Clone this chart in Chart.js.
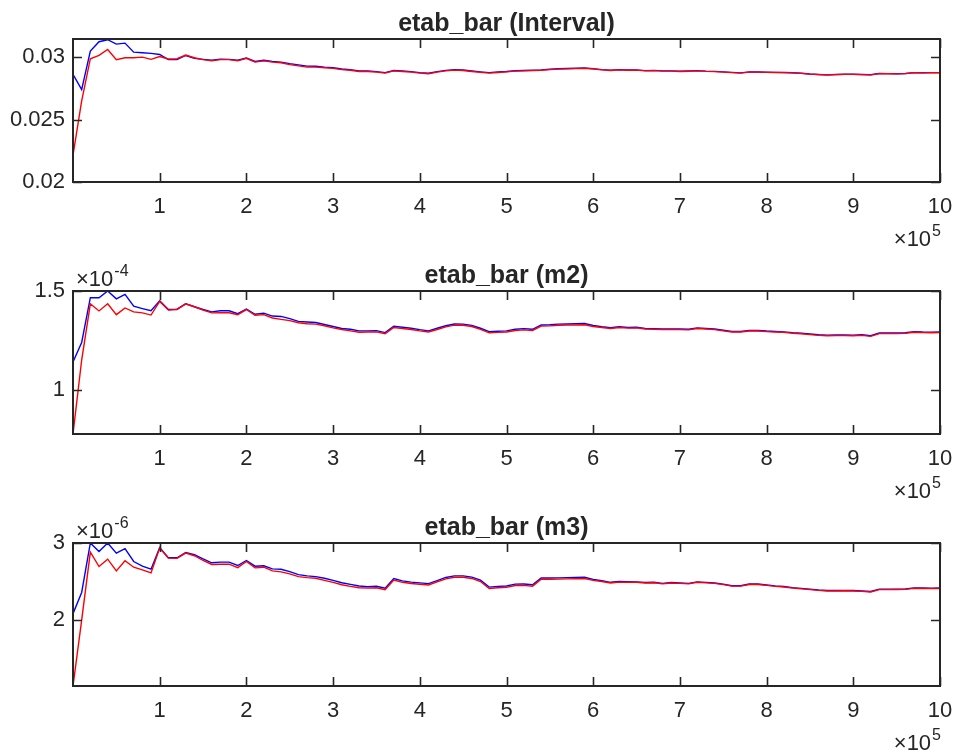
<!DOCTYPE html>
<html>
<head>
<meta charset="utf-8">
<script src="https://cdn.jsdelivr.net/npm/chart.js@4.4.1/dist/chart.umd.min.js"></script>
<style>
  html, body { margin: 0; padding: 0; background: #ffffff; }
  #wrap { position: relative; width: 957px; height: 756px; overflow: hidden; }
  #wrap canvas { position: absolute; left: 0; }
</style>
</head>
<body>
<div id="wrap">
  <canvas id="pInterval" width="957" height="252" style="top:0px"></canvas>
  <canvas id="pM2" width="957" height="252" style="top:252px"></canvas>
  <canvas id="pM3" width="957" height="252" style="top:504px"></canvas>
</div>
<script>
// Sample grid: iteration count, one sample every 1e4 up to 1e6
const sampleStep = 1e4;
const sampleCount = 101;

// Panel titles
const titles = ['etab_bar (Interval)', 'etab_bar (m2)', 'etab_bar (m3)'];

// x axis ticks (in units of 1e5)
const xTickValues = [1, 2, 3, 4, 5, 6, 7, 8, 9, 10];
const xExponent = '5';

// y axis tick values and exponents per panel
const yTicksInterval = [0.02, 0.025, 0.03];
const yTicksM2 = [1, 1.5];       // x 1e-4
const yTicksM3 = [2, 3];         // x 1e-6
const yExpM2 = '-4';
const yExpM3 = '-6';

// etab_bar (Interval)
const intervalBlue = [
  0.02862, 0.0274, 0.03048, 0.03123, 0.03139, 0.03104, 0.03112, 0.0304, 0.03035, 0.0303,
  0.03021, 0.0298, 0.0298, 0.03013, 0.0299, 0.02982, 0.02975, 0.02984, 0.02982, 0.02975,
  0.02993, 0.02965, 0.02975, 0.02966, 0.0296, 0.02948, 0.02938, 0.02928, 0.02927, 0.0292,
  0.02915, 0.02905, 0.02899, 0.0289, 0.02889, 0.02884, 0.02876, 0.02893, 0.02889, 0.02884,
  0.02876, 0.02871, 0.02884, 0.02894, 0.029, 0.02897, 0.02889, 0.02882, 0.02876, 0.02881,
  0.02885, 0.02891, 0.02893, 0.02895, 0.02898, 0.02903, 0.02907, 0.02909, 0.02911, 0.02913,
  0.02908, 0.029, 0.02896, 0.029, 0.02897, 0.02898, 0.02892, 0.02894, 0.0289, 0.0289,
  0.02887, 0.02889, 0.02892, 0.02888, 0.02886, 0.02882, 0.02878, 0.02874, 0.02882, 0.02881,
  0.02879, 0.02878, 0.02877, 0.02875, 0.02871, 0.02865, 0.02861, 0.02858, 0.02861, 0.02863,
  0.02863, 0.02861, 0.02859, 0.02869, 0.02868, 0.02867, 0.02869, 0.02876, 0.02875, 0.02876,
  0.02876
];
const intervalRed = [
  0.02215, 0.0265, 0.02987, 0.03014, 0.03061, 0.0298, 0.02995, 0.02995, 0.03, 0.02982,
  0.03005, 0.02985, 0.02987, 0.03016, 0.02995, 0.0298, 0.0297, 0.0298, 0.0298, 0.0297,
  0.0299, 0.0296, 0.0297, 0.0296, 0.02955, 0.0294, 0.0293, 0.0292, 0.0292, 0.02915,
  0.0291, 0.029, 0.02895, 0.02885, 0.02885, 0.0288, 0.02872, 0.0289, 0.02885, 0.0288,
  0.02872, 0.02867, 0.0288, 0.0289, 0.02896, 0.02893, 0.02885, 0.02878, 0.02872, 0.02877,
  0.02882, 0.02888, 0.0289, 0.02892, 0.02895, 0.029, 0.02904, 0.02906, 0.02908, 0.0291,
  0.02905, 0.02898, 0.02893, 0.02898, 0.02895, 0.02896, 0.0289, 0.02892, 0.02888, 0.02888,
  0.02885, 0.02887, 0.0289, 0.02886, 0.02884, 0.0288, 0.02876, 0.02872, 0.0288, 0.0288,
  0.02878, 0.02877, 0.02876, 0.02874, 0.0287, 0.02864, 0.0286, 0.02857, 0.0286, 0.02862,
  0.02862, 0.0286, 0.02858, 0.02868, 0.02867, 0.02866, 0.02868, 0.02875, 0.02874, 0.02875,
  0.02875
];

// etab_bar (m2), in units of 1e-4
const m2Blue = [
  1.140, 1.239, 1.466, 1.466, 1.500, 1.460, 1.483, 1.423, 1.411, 1.400,
  1.450, 1.406, 1.408, 1.435, 1.420, 1.406, 1.394, 1.400, 1.400, 1.385,
  1.408, 1.382, 1.388, 1.373, 1.371, 1.360, 1.346, 1.343, 1.340, 1.330,
  1.320, 1.310, 1.306, 1.298, 1.298, 1.299, 1.289, 1.321, 1.316, 1.311,
  1.304, 1.298, 1.311, 1.324, 1.333, 1.332, 1.326, 1.311, 1.294, 1.296,
  1.298, 1.306, 1.309, 1.306, 1.328, 1.329, 1.332, 1.333, 1.334, 1.335,
  1.325, 1.319, 1.314, 1.319, 1.315, 1.316, 1.310, 1.309, 1.307, 1.308,
  1.307, 1.306, 1.313, 1.310, 1.307, 1.301, 1.295, 1.295, 1.300, 1.300,
  1.297, 1.295, 1.293, 1.289, 1.286, 1.282, 1.278, 1.276, 1.277, 1.277,
  1.276, 1.278, 1.273, 1.287, 1.287, 1.287, 1.288, 1.294, 1.292, 1.291,
  1.292
];
const m2Red = [
  0.775, 1.150, 1.435, 1.399, 1.435, 1.380, 1.414, 1.394, 1.389, 1.378,
  1.447, 1.403, 1.406, 1.435, 1.420, 1.403, 1.389, 1.390, 1.390, 1.380,
  1.406, 1.377, 1.380, 1.363, 1.356, 1.350, 1.339, 1.334, 1.332, 1.324,
  1.313, 1.305, 1.298, 1.291, 1.292, 1.293, 1.283, 1.315, 1.310, 1.305,
  1.298, 1.292, 1.305, 1.318, 1.327, 1.326, 1.320, 1.305, 1.288, 1.290,
  1.292, 1.300, 1.303, 1.300, 1.322, 1.323, 1.326, 1.327, 1.328, 1.329,
  1.320, 1.315, 1.310, 1.315, 1.312, 1.313, 1.307, 1.306, 1.304, 1.305,
  1.304, 1.303, 1.310, 1.307, 1.304, 1.298, 1.292, 1.292, 1.297, 1.297,
  1.294, 1.292, 1.290, 1.286, 1.283, 1.279, 1.275, 1.273, 1.274, 1.274,
  1.273, 1.275, 1.270, 1.284, 1.284, 1.284, 1.285, 1.291, 1.289, 1.288,
  1.289
];

// etab_bar (m3), in units of 1e-6
const m3Blue = [
  2.083, 2.358, 3.000, 2.891, 3.000, 2.869, 2.926, 2.760, 2.699, 2.660,
  2.940, 2.808, 2.808, 2.878, 2.848, 2.795, 2.743, 2.752, 2.752, 2.708,
  2.773, 2.699, 2.704, 2.664, 2.660, 2.629, 2.590, 2.573, 2.564, 2.542,
  2.516, 2.485, 2.463, 2.442, 2.433, 2.438, 2.413, 2.538, 2.508, 2.493,
  2.483, 2.473, 2.513, 2.553, 2.573, 2.573, 2.558, 2.518, 2.428, 2.438,
  2.443, 2.466, 2.468, 2.458, 2.546, 2.546, 2.548, 2.551, 2.553, 2.556,
  2.528, 2.510, 2.490, 2.500, 2.497, 2.496, 2.488, 2.491, 2.476, 2.488,
  2.482, 2.476, 2.496, 2.489, 2.482, 2.466, 2.446, 2.446, 2.468, 2.468,
  2.456, 2.444, 2.436, 2.421, 2.411, 2.401, 2.391, 2.384, 2.384, 2.386,
  2.384, 2.378, 2.371, 2.401, 2.401, 2.402, 2.404, 2.418, 2.416, 2.414,
  2.416
];
const m3Red = [
  1.145, 2.000, 2.882, 2.695, 2.790, 2.638, 2.769, 2.686, 2.651, 2.612,
  2.935, 2.804, 2.800, 2.869, 2.835, 2.773, 2.721, 2.725, 2.725, 2.681,
  2.760, 2.677, 2.686, 2.638, 2.625, 2.599, 2.564, 2.551, 2.542, 2.516,
  2.490, 2.459, 2.437, 2.420, 2.415, 2.420, 2.395, 2.520, 2.490, 2.475,
  2.465, 2.455, 2.495, 2.535, 2.555, 2.555, 2.540, 2.500, 2.410, 2.420,
  2.425, 2.448, 2.450, 2.440, 2.530, 2.530, 2.532, 2.535, 2.537, 2.540,
  2.515, 2.500, 2.482, 2.492, 2.490, 2.490, 2.482, 2.485, 2.470, 2.482,
  2.476, 2.470, 2.490, 2.483, 2.476, 2.460, 2.440, 2.440, 2.462, 2.462,
  2.450, 2.438, 2.430, 2.415, 2.405, 2.395, 2.385, 2.378, 2.378, 2.380,
  2.378, 2.372, 2.365, 2.395, 2.395, 2.396, 2.398, 2.412, 2.410, 2.408,
  2.410
];

const FONT = "'Liberation Sans', Arial, Helvetica, sans-serif";
const INK = '#262626';
const AREA = { left: 73, right: 940, top: 39, bottom: 182 };

function toPoints(values) {
  return values.map((v, i) => ({ x: i * sampleStep / 1e5, y: v }));
}

// Draws "×10" followed by a superscript exponent
function drawPower(ctx, exp, x, y, align) {
  ctx.save();
  ctx.fillStyle = INK;
  ctx.textBaseline = 'alphabetic';
  ctx.textAlign = 'left';
  const baseFont = '22px ' + FONT;
  const supFont = '16px ' + FONT;
  ctx.font = baseFont;
  const base = '\u00D710';
  const wBase = ctx.measureText(base).width;
  ctx.font = supFont;
  const wSup = ctx.measureText(exp).width;
  const x0 = align === 'right' ? x - wBase - wSup : x;
  ctx.font = baseFont;
  ctx.fillText(base, x0, y);
  ctx.font = supFont;
  ctx.fillText(exp, x0 + wBase + 1, y - 10);
  ctx.restore();
}

// Box, inward tick marks, title and exponent labels, MATLAB style
const axesFrame = {
  id: 'axesFrame',
  afterDraw(chart, args, opts) {
    const { ctx, chartArea: a, scales } = chart;
    const xs = scales.x, ys = scales.y;
    const tl = 9;
    ctx.save();
    ctx.strokeStyle = INK;
    ctx.lineWidth = 1.6;
    ctx.beginPath();
    xs.ticks.forEach(t => {
      const px = Math.round(xs.getPixelForValue(t.value)) + 0.5;
      ctx.moveTo(px, a.bottom); ctx.lineTo(px, a.bottom - tl);
      ctx.moveTo(px, a.top); ctx.lineTo(px, a.top + tl);
    });
    ys.ticks.forEach(t => {
      const py = Math.round(ys.getPixelForValue(t.value)) + 0.5;
      ctx.moveTo(a.left, py); ctx.lineTo(a.left + tl, py);
      ctx.moveTo(a.right, py); ctx.lineTo(a.right - tl, py);
    });
    ctx.stroke();
    ctx.lineWidth = 2;
    ctx.strokeRect(a.left, a.top, a.right - a.left, a.bottom - a.top);

    ctx.fillStyle = INK;
    ctx.font = 'bold 25px ' + FONT;
    ctx.textAlign = 'center';
    ctx.textBaseline = 'alphabetic';
    ctx.fillText(opts.title, (a.left + a.right) / 2, a.top - 8);
    ctx.restore();

    if (opts.yExp) drawPower(ctx, opts.yExp, a.left + 3, a.top - 5, 'left');
    drawPower(ctx, xExponent, a.right, a.bottom + 64, 'right');
  }
};

function makePanel(id, title, blue, red, yMin, yMax, yTicks, yExp, yFormat) {
  new Chart(document.getElementById(id), {
    type: 'line',
    data: {
      datasets: [
        { data: toPoints(red), borderColor: '#ff0000', borderWidth: 1.4 },
        { data: toPoints(blue), borderColor: '#0000ff', borderWidth: 1.4 }
      ]
    },
    options: {
      responsive: false,
      animation: false,
      devicePixelRatio: 1,
      layout: { padding: { top: AREA.top, right: 957 - AREA.right, left: 0, bottom: 0 } },
      elements: { point: { radius: 0 }, line: { tension: 0 } },
      plugins: {
        legend: { display: false },
        tooltip: { enabled: false },
        axesFrame: { title: title, yExp: yExp }
      },
      scales: {
        x: {
          type: 'linear',
          min: 0, max: 10,
          afterBuildTicks: s => { s.ticks = xTickValues.map(v => ({ value: v })); },
          afterFit: s => {
            s.height = 252 - AREA.bottom;
            s.paddingLeft = 0; s.paddingRight = 0;
          },
          grid: { display: false, drawTicks: false },
          border: { display: false },
          ticks: {
            font: { family: FONT, size: 22 },
            color: INK,
            padding: 12,
            maxRotation: 0,
            callback: v => String(v)
          }
        },
        y: {
          type: 'linear',
          min: yMin, max: yMax,
          afterBuildTicks: s => { s.ticks = yTicks.map(v => ({ value: v })); },
          afterFit: s => {
            s.width = AREA.left;
            s.paddingTop = 0; s.paddingBottom = 0;
          },
          grid: { display: false, drawTicks: false },
          border: { display: false },
          ticks: {
            font: { family: FONT, size: 22 },
            color: INK,
            padding: 8,
            callback: yFormat
          }
        }
      }
    },
    plugins: [axesFrame]
  });
}

makePanel('pInterval', titles[0], intervalBlue, intervalRed, 0.02, 0.03145,
  yTicksInterval, null, v => String(Number(v.toFixed(4))));
makePanel('pM2', titles[1], m2Blue, m2Red, m2Red[0], 1.5,
  yTicksM2, yExpM2, v => String(v));
makePanel('pM3', titles[2], m3Blue, m3Red, m3Red[0], 3,
  yTicksM3, yExpM3, v => String(v));
</script>
</body>
</html>
